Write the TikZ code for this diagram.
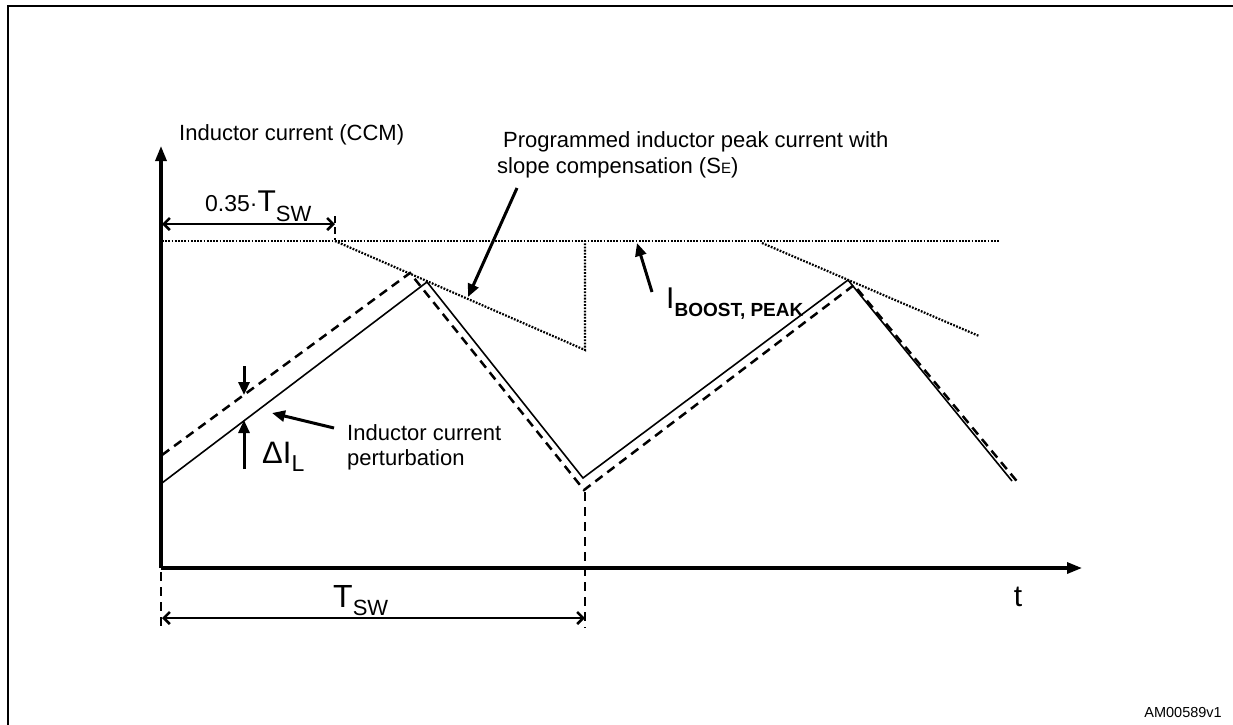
\documentclass[tikz,border=0pt]{standalone}
\usepackage{fontspec}
\setmainfont{Liberation Sans}
\usetikzlibrary{arrows.meta}
\newcommand{\fs}[1]{\fontsize{#1}{#1}\selectfont}
\begin{document}
\begin{tikzpicture}[x=1pt,y=-1pt,
  axisline/.style={line width=3.2pt,-{Triangle[length=15pt,width=11pt]}},
  dimline/.style={line width=2.6pt,{Straight Barb[length=6pt,width=12pt]}-{Straight Barb[length=6pt,width=12pt]}},
  pointer/.style={line width=3pt,-{Triangle[length=13pt,width=11pt]}},
  dotline/.style={line width=2.2pt,dash pattern=on 1.8pt off 1.4pt},
  solidwave/.style={line width=1.6pt},
  dashwave/.style={line width=2.5pt,dash pattern=on 9pt off 6pt},
  guide/.style={line width=2.4pt,dash pattern=on 9pt off 6pt},
  lbl/.style={inner sep=0pt,anchor=base west}]
\useasboundingbox (0,0) rectangle (1233,724);
\fill[white] (0,0) rectangle (1233,724);
% frame
\coordinate (fbl) at (8,740);
\coordinate (ftl) at (8,6);
\coordinate (ftr) at (1250,6);
\draw[line width=2pt] (fbl) -- (ftl) -- (ftr);
% axes
\coordinate (O) at (161,568);
\coordinate (ytop) at (161,146);
\coordinate (xend) at (1082,568);
\draw[axisline] (O) -- (ytop);
\draw[axisline] (O) -- (xend);
% peak current level and slope compensation ramps
\coordinate (h0) at (162,241);
\coordinate (h1) at (1000,241);
\coordinate (r1a) at (335,241);
\coordinate (r1b) at (585,350);
\coordinate (r1c) at (585,241);
\coordinate (r2a) at (762,243);
\coordinate (r2b) at (979,336);
\draw[dotline] (h0) -- (h1);
\draw[dotline] (r1a) -- (r1b) -- (r1c);
\draw[dotline] (r2a) -- (r2b);
% solid inductor current
\coordinate (s0) at (162,483);
\coordinate (s1) at (427,282);
\coordinate (s2) at (583,478);
\coordinate (s3) at (848,280);
\coordinate (s4) at (1012,481);
\draw[solidwave] (s0) -- (s1) -- (s2) -- (s3) -- (s4);
% perturbed (dashed) current
\coordinate (d0) at (162,455);
\coordinate (d1) at (410,273);
\coordinate (d2) at (584,490);
\coordinate (d3) at (854,285);
\coordinate (d4) at (1020,485);
\draw[dashwave] (d0) -- (d1) -- (d2) -- (d3) -- (d4);
% guides
\coordinate (g0a) at (161,572);
\coordinate (g0b) at (161,628);
\coordinate (g1a) at (585,492);
\coordinate (g1b) at (585,628);
\draw[guide] (g0a) -- (g0b);
\draw[guide] (g1a) -- (g1b);
\coordinate (tk0) at (335,216);
\coordinate (tk1) at (335,240);
\draw[line width=2.4pt,dash pattern=on 7pt off 4pt] (tk0) -- (tk1);
% dimension arrows
\coordinate (ta) at (162,618);
\coordinate (tb) at (585,618);
\draw[dimline] (ta) -- (tb);
\coordinate (qa) at (162,224);
\coordinate (qb) at (335,224);
\draw[dimline] (qa) -- (qb);
% delta I_L arrows
\coordinate (dia) at (244,366);
\coordinate (dib) at (244,395);
\coordinate (dic) at (244,469);
\coordinate (did) at (244,420);
\draw[pointer] (dia) -- (dib);
\draw[pointer] (dic) -- (did);
% pointer arrows
\coordinate (pa) at (334,428);
\coordinate (pb) at (272,413);
\draw[pointer] (pa) -- (pb);
\coordinate (sa) at (517,188);
\coordinate (sb) at (468,297);
\draw[pointer] (sa) -- (sb);
\coordinate (ia) at (652,292);
\coordinate (ib) at (637,243);
\draw[pointer] (ia) -- (ib);
% labels
\node[lbl] (ylab) at (179,140) {\fs{22}Inductor current (CCM)};
\node[lbl] (slab1) at (503,147) {\fs{22}Programmed inductor peak current with};
\node[lbl] (slab2) at (497,173) {\fs{22}slope compensation (S{\fs{15}E})};
\node[lbl] (q35) at (205,211) {\fs{23}0.35·\fs{30}T\raisebox{-10pt}{\fs{22}SW}};
\node[lbl] (ibl) at (666,308) {\fs{30}I\raisebox{-8pt}{\fs{19}\bfseries BOOST, PEAK}};
\node[lbl] (dil) at (262,463) {\fs{31}ΔI\raisebox{-8pt}{\fs{23}L}};
\node[lbl] (pl1) at (347,440) {\fs{22}Inductor current};
\node[lbl] (pl2) at (347,465) {\fs{22}perturbation};
\node[lbl] (tsw) at (333,607) {\fs{32}T\raisebox{-8pt}{\fs{22}SW}};
\node[inner sep=0pt,anchor=base] (tl) at (1018,606) {\fs{30}t};
\node[inner sep=0pt,anchor=base east] (am) at (1222,717) {\fs{14.5}AM00589v1};
\end{tikzpicture}
\end{document}
